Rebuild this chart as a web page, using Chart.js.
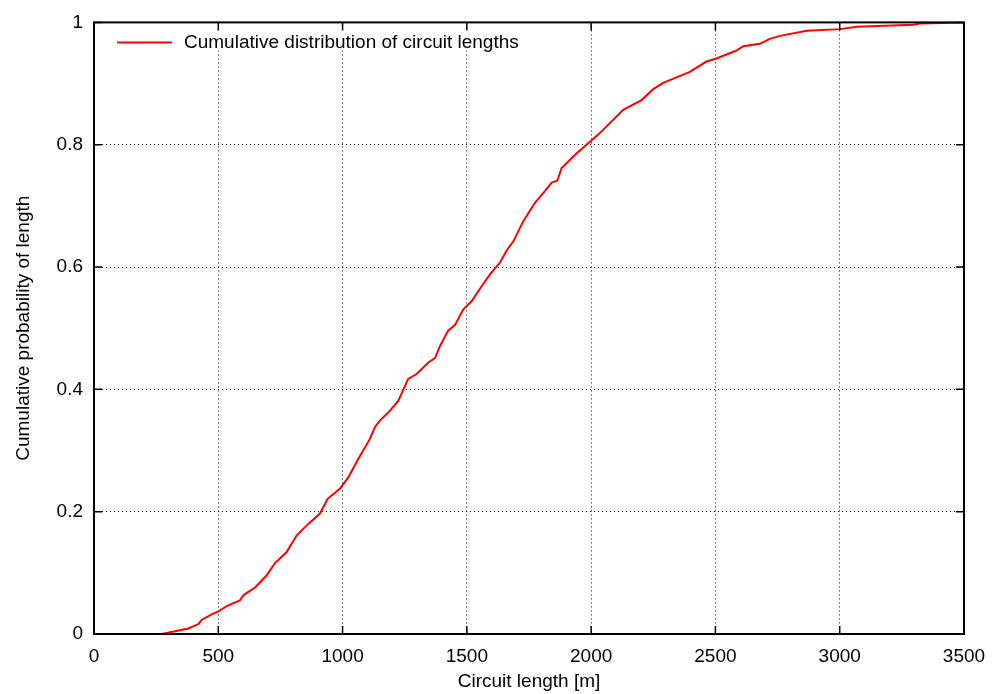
<!DOCTYPE html>
<html>
<head>
<meta charset="utf-8">
<script src="https://cdn.jsdelivr.net/npm/chart.js@4/dist/chart.umd.min.js"></script>
<style>
  html,body{margin:0;padding:0;background:#fff;}
  #wrap{width:1003px;height:694px;position:relative;}
</style>
</head>
<body>
<div id="wrap"><canvas id="c"></canvas></div>
<script>
/* ===== data ===== */
const lengths = [273,379,420,433,473,496,536,587,603,648,695,728,775,815,862,909,940,990,1023,1063,
  1110,1130,1150,1184,1224,1264,1298,1345,1372,1392,1425,1452,1486,1519,1560,1593,1633,1660,1687,1727,
  1774,1814,1841,1864,1881,1942,1995,2035,2129,2203,2250,2290,2331,2397,2464,2504,2585,2612,2679,2719,
  2760,2867,3001,3068,3296,3323,3497];
const probs = [0,0.009,0.016,0.023,0.032,0.036,0.046,0.055,0.064,0.076,0.096,0.116,0.134,0.161,0.180,0.197,0.221,0.238,0.256,0.286,
  0.319,0.338,0.349,0.362,0.381,0.417,0.425,0.444,0.451,0.471,0.496,0.505,0.531,0.544,0.569,0.588,0.607,0.627,0.642,0.675,
  0.705,0.724,0.738,0.741,0.762,0.786,0.805,0.819,0.857,0.873,0.891,0.901,0.908,0.919,0.936,0.941,0.954,0.961,0.965,0.973,
  0.978,0.9865,0.989,0.993,0.996,0.998,1.0];
const xTicks = [0,500,1000,1500,2000,2500,3000,3500];
const yTicks = [0,0.2,0.4,0.6,0.8,1];
const seriesLabel = 'Cumulative distribution of circuit lengths';
const xTitle = 'Circuit length [m]', yTitle = 'Cumulative probability of length';

const FONT = '"Liberation Sans", Arial, Helvetica, sans-serif';
const FS = 19;

/* ===== gnuplot-ish frame, inward ticks, key ===== */
const gp = {
  id:'gp',
  beforeDatasetsDraw(ch){
    const a=ch.chartArea, c=ch.ctx;
    c.save(); c.fillStyle='#fff';
    c.fillRect(a.left+1, a.top+1, 455, 27);   // key area hides grid
    c.restore();
  },
  afterDraw(ch){
    const a=ch.chartArea, c=ch.ctx, sx=ch.scales.x, sy=ch.scales.y, T=8;
    c.save();
    c.strokeStyle='#000'; c.lineWidth=1.5;
    c.beginPath();
    xTicks.forEach(v=>{ const p=sx.getPixelForValue(v);
      c.moveTo(p,a.bottom); c.lineTo(p,a.bottom-T); c.moveTo(p,a.top); c.lineTo(p,a.top+T); });
    yTicks.forEach(v=>{ const p=sy.getPixelForValue(v);
      c.moveTo(a.left,p); c.lineTo(a.left+T,p); c.moveTo(a.right,p); c.lineTo(a.right-T,p); });
    c.stroke();
    c.lineWidth=2;
    c.strokeRect(a.left,a.top,a.right-a.left,a.bottom-a.top);
    // key
    const ky=a.top+20;
    c.strokeStyle='#ff0000'; c.lineWidth=2;
    c.beginPath(); c.moveTo(a.left+23,ky); c.lineTo(a.left+78,ky); c.stroke();
    c.fillStyle='#000'; c.font=FS+'px '+FONT; c.textBaseline='middle';
    c.fillText(seriesLabel, a.left+90, ky);
    c.restore();
  }
};

new Chart(document.getElementById('c'),{
  type:'scatter',
  data:{datasets:[{
    label:seriesLabel,
    data:lengths.map((x,i)=>({x, y:probs[i]})),
    showLine:true, borderColor:'#ff0000', backgroundColor:'#ff0000',
    borderWidth:2, pointRadius:0, tension:0
  }]},
  options:{
    responsive:true, maintainAspectRatio:false, animation:false,
    layout:{padding:{left:0,right:39,top:18,bottom:0}},
    plugins:{legend:{display:false}, tooltip:{enabled:false}},
    scales:{
      x:{type:'linear', min:0, max:3500,
        afterFit:s=>{s.height=60;},
        afterBuildTicks:s=>{s.ticks=xTicks.map(v=>({value:v}));},
        grid:{color:'#000', lineWidth:1, drawTicks:false, tickLength:0},
        border:{display:false, dash:[1,3]},
        ticks:{padding:11, color:'#000', font:{family:FONT,size:FS}, callback:v=>String(v), maxRotation:0},
        title:{display:true, text:xTitle, color:'#000', font:{family:FONT,size:FS}, padding:{top:0,bottom:1}}
      },
      y:{type:'linear', min:0, max:1,
        afterFit:s=>{s.width=94;},
        afterBuildTicks:s=>{s.ticks=yTicks.map(v=>({value:v}));},
        grid:{color:'#000', lineWidth:1, drawTicks:false, tickLength:0},
        border:{display:false, dash:[1,3]},
        ticks:{padding:11, color:'#000', font:{family:FONT,size:FS}, callback:v=>String(+v.toFixed(1))},
        title:{display:true, text:yTitle, color:'#000', font:{family:FONT,size:FS}, padding:{top:12,bottom:0}}
      }
    }
  },
  plugins:[gp]
});
</script>
</body>
</html>
